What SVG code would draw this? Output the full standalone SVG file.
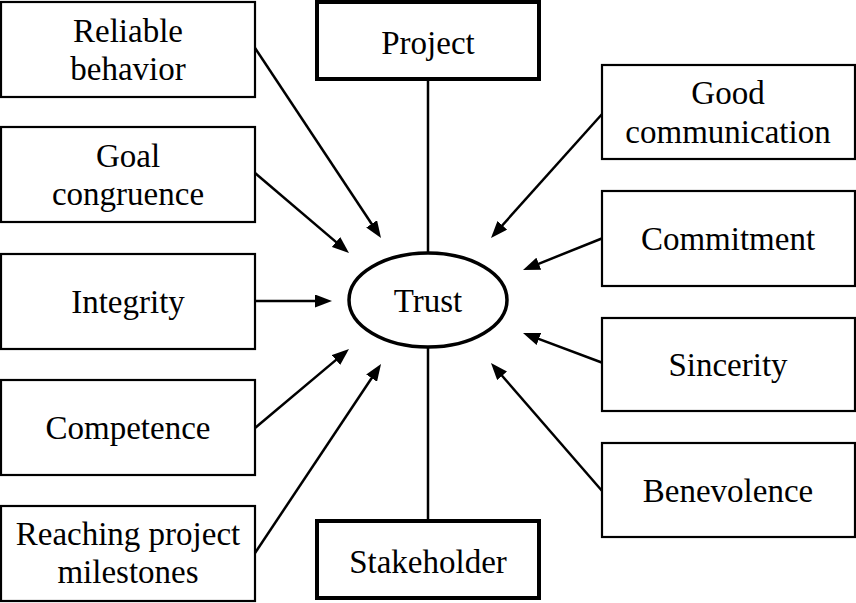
<svg xmlns="http://www.w3.org/2000/svg" width="856" height="603" viewBox="0 0 856 603">
<style>
.box{fill:#fff;stroke:#000;stroke-width:2.2}
.bold{fill:#fff;stroke:#000;stroke-width:4}
.lbl{font-size:33px;fill:#000;text-anchor:middle}
.con{stroke:#000;stroke-width:2.5;fill:none}
</style>
<defs>
<marker id="ah" markerUnits="userSpaceOnUse" markerWidth="17" markerHeight="13" viewBox="0 0 17 13" refX="11" refY="6.5" orient="auto">
<path d="M0,0 L17,6.5 L0,13 z" fill="#000"/>
</marker>
</defs>
<rect width="856" height="603" fill="#fff"/>
<g id="connectors">
<line class="con" x1="428" y1="80" x2="428" y2="253"/>
<line class="con" x1="428" y1="348" x2="428" y2="520"/>
<line class="con" x1="255" y1="48" x2="377.7" y2="233" marker-end="url(#ah)"/>
<line class="con" x1="255" y1="173" x2="344.4" y2="249.1" marker-end="url(#ah)"/>
<line class="con" x1="255" y1="301" x2="326" y2="301" marker-end="url(#ah)"/>
<line class="con" x1="255" y1="428" x2="344.4" y2="352.9" marker-end="url(#ah)"/>
<line class="con" x1="255" y1="553" x2="377.7" y2="369" marker-end="url(#ah)"/>
<line class="con" x1="603" y1="113" x2="495" y2="233.5" marker-end="url(#ah)"/>
<line class="con" x1="603" y1="238" x2="528.6" y2="267.8" marker-end="url(#ah)"/>
<line class="con" x1="603" y1="363" x2="528.6" y2="335.1" marker-end="url(#ah)"/>
<line class="con" x1="603" y1="492" x2="494.9" y2="367.5" marker-end="url(#ah)"/>
</g>
<g font-family="Liberation Serif, Times New Roman, Times, DejaVu Serif, Noto Serif, serif">
<g id="project"><rect class="bold" x="317" y="2" width="222" height="77"/><text class="lbl" x="428" y="54">Project</text></g>
<g id="stakeholder"><rect class="bold" x="317" y="521" width="222" height="77"/><text class="lbl" x="428" y="573">Stakeholder</text></g>
<g id="trust"><ellipse cx="428" cy="300" rx="79" ry="47" fill="#fff" stroke="#000" stroke-width="3.5"/><text class="lbl" x="428" y="312">Trust</text></g>
<g id="reliable"><rect class="box" x="1" y="2" width="254" height="95"/><text class="lbl" x="128" y="42">Reliable</text><text class="lbl" x="128" y="80">behavior</text></g>
<g id="goal"><rect class="box" x="1" y="127" width="254" height="95"/><text class="lbl" x="128" y="167">Goal</text><text class="lbl" x="128" y="205">congruence</text></g>
<g id="integrity"><rect class="box" x="1" y="254" width="254" height="95"/><text class="lbl" x="128" y="313">Integrity</text></g>
<g id="competence"><rect class="box" x="1" y="380" width="254" height="95"/><text class="lbl" x="128" y="439">Competence</text></g>
<g id="reaching"><rect class="box" x="1" y="506" width="254" height="95"/><text class="lbl" x="128" y="545">Reaching project</text><text class="lbl" x="128" y="583">milestones</text></g>
<g id="goodcomm"><rect class="box" x="602" y="65" width="253" height="94"/><text class="lbl" x="728" y="104">Good</text><text class="lbl" x="728" y="143">communication</text></g>
<g id="commitment"><rect class="box" x="602" y="191" width="253" height="95"/><text class="lbl" x="728" y="250">Commitment</text></g>
<g id="sincerity"><rect class="box" x="602" y="318" width="253" height="93"/><text class="lbl" x="728" y="376">Sincerity</text></g>
<g id="benevolence"><rect class="box" x="602" y="443" width="253" height="94"/><text class="lbl" x="728" y="502">Benevolence</text></g>
</g>
</svg>
